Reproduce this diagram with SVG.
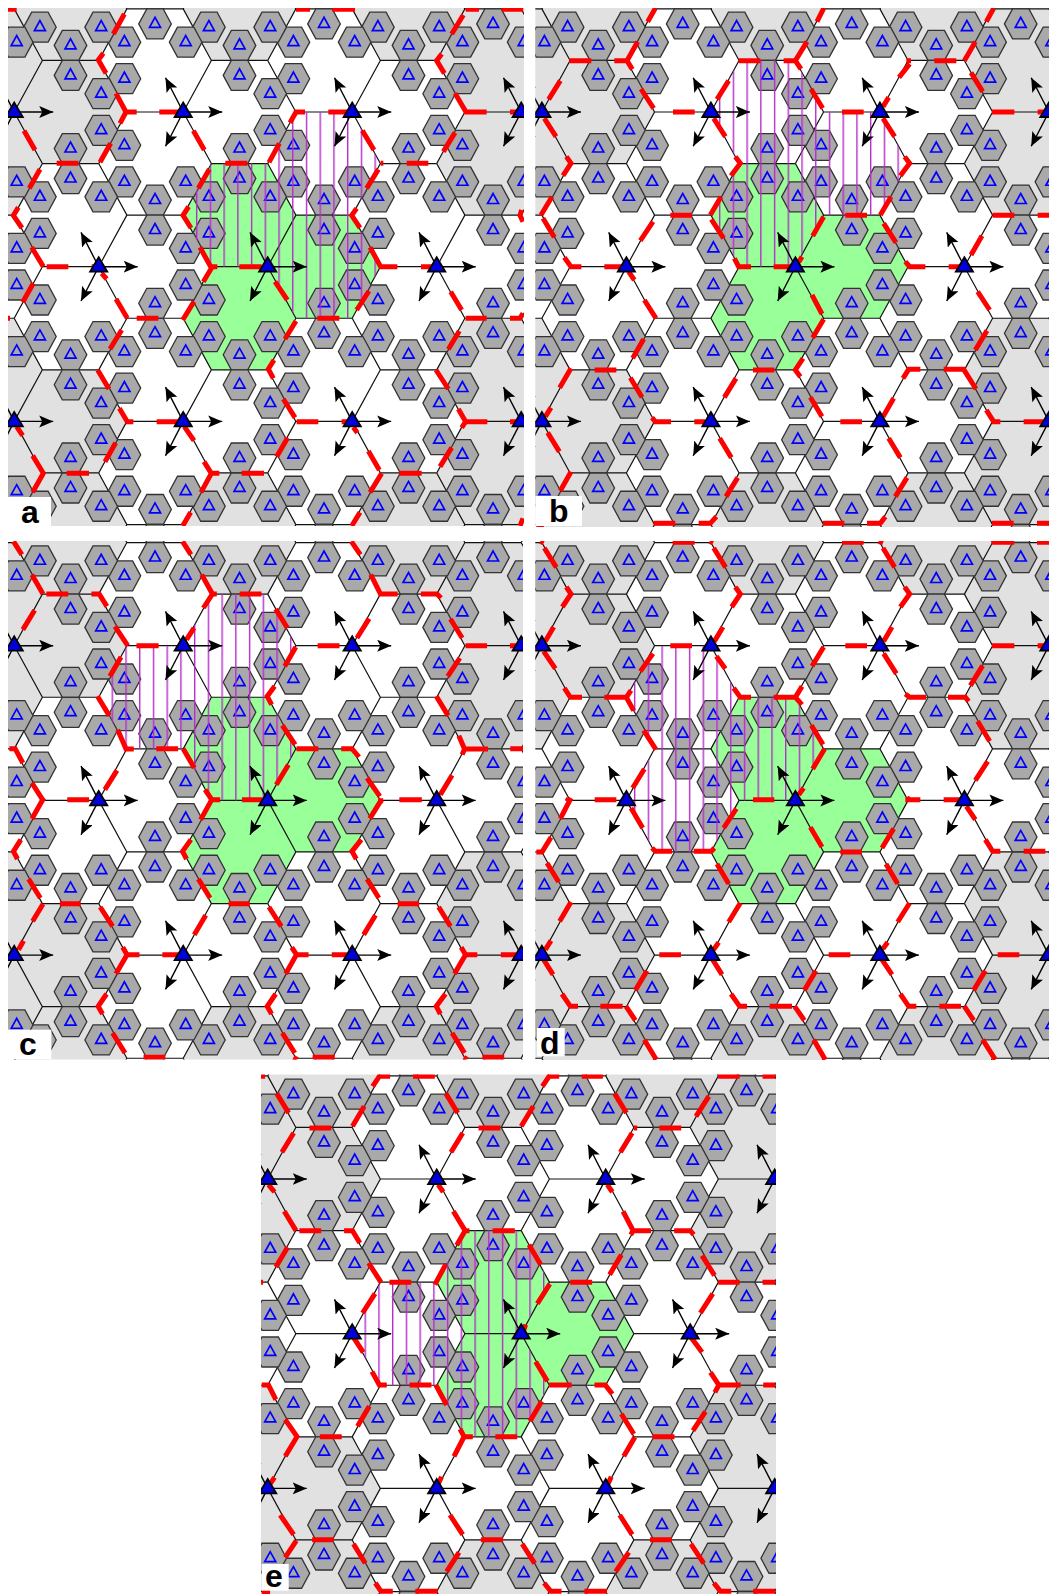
<svg xmlns="http://www.w3.org/2000/svg" xmlns:xlink="http://www.w3.org/1999/xlink" width="1049" height="1594" viewBox="0 0 1049 1594">
<style>
.l{fill:none;stroke:#111;stroke-width:1.2}
.s{fill:#a9a9a9;stroke:#333;stroke-width:1.3}
.t{fill:none;stroke:#00f;stroke-width:1.7}
.a{stroke:#000;stroke-width:1.4;marker-end:url(#ah)}
.b{fill:#0000dc;stroke:#000;stroke-width:1.8}
.g{fill:#e1e1e1}
.gr{fill:#99ff99}
.r{fill:none;stroke:#f00;stroke-width:15;stroke-linejoin:miter}
.lb{fill:#fff}
.tx{font-family:"Liberation Sans",Arial,sans-serif;font-weight:700;font-size:32px;fill:#000}
</style>
<defs>
<marker id="ah" markerUnits="userSpaceOnUse" markerWidth="16" markerHeight="14" refX="14" refY="6" orient="auto"><path d="M0 0L14 6L0 12L3 6Z" fill="#000"/></marker>
<path id="hx" d="M-56.33 0L-28.17-51.57H28.17L56.33 0L28.17 51.57H-28.17Z"/>
<g id="sm"><path class="s" d="M-16.3 0L-8.2-15H8.2L16.3 0L8.2 15H-8.2Z"/><path class="t" d="M-5.5 3.4H5.5L0-6.6Z"/></g>
<path id="uL" class="l" d="M0 0H-56.33M0 0L28.17-51.57M0 0L28.17 51.57M-84.5-51.57L-56.33 0L-84.5 51.57M84.5-51.57H28.17L0-103.14M84.5 51.57H28.17L0 103.14"/>
<g id="uH">
<use href="#sm" x="-58.8" y="-33.3"/><use href="#sm" x="-82" y="-18.3"/>
<use href="#sm" x="-58.8" y="33.3"/><use href="#sm" x="-82" y="18.3"/>
<use href="#sm" x="56.33" y="-66.6"/><use href="#sm" x="56.33" y="-36.6"/>
<use href="#sm" x="25.7" y="-84.85"/><use href="#sm" x="2.5" y="-69.85"/>
<use href="#sm" x="56.33" y="36.6"/><use href="#sm" x="56.33" y="66.6"/>
<use href="#sm" x="25.7" y="84.85"/><use href="#sm" x="2.5" y="69.85"/>
</g>
<g id="uT">
<line class="a" x1="0" y1="0" x2="39" y2="0"/><line class="a" x1="0" y1="0" x2="-17.7" y2="-34.3"/><line class="a" x1="0" y1="0" x2="-17.7" y2="34.3"/>
<polygon class="b" points="-8.6,5 8.6,5 0,-9.4"/>
</g>
<g id="base">
<rect x="0" y="0" width="540" height="540" fill="#fff"/>
<g class="g">
<use href="#hx" x="70.53" y="8.86"/><use href="#hx" x="239.53" y="8.86"/><use href="#hx" x="408.53" y="8.86"/>
<use href="#hx" x="-13.97" y="60.43"/><use href="#hx" x="493.03" y="60.43"/>
<use href="#hx" x="70.53" y="112"/><use href="#hx" x="577.53" y="112"/>
<use href="#hx" x="-13.97" y="163.57"/><use href="#hx" x="493.03" y="163.57"/>
<use href="#hx" x="-13.97" y="369.85"/><use href="#hx" x="493.03" y="369.85"/>
<use href="#hx" x="70.53" y="421.42"/><use href="#hx" x="577.53" y="421.42"/>
<use href="#hx" x="-13.97" y="472.99"/><use href="#hx" x="493.03" y="472.99"/>
<use href="#hx" x="70.53" y="524.56"/><use href="#hx" x="239.53" y="524.56"/><use href="#hx" x="408.53" y="524.56"/>
</g>
<g class="gr">
<use href="#hx" x="239.53" y="215.14"/><use href="#hx" x="324.03" y="266.71"/><use href="#hx" x="239.53" y="318.28"/>
</g>
<g>
<use href="#uL" x="-70.3" y="-42.7"/><use href="#uL" x="98.7" y="-42.7"/><use href="#uL" x="267.7" y="-42.7"/><use href="#uL" x="436.7" y="-42.7"/><use href="#uL" x="605.7" y="-42.7"/>
<use href="#uL" x="14.2" y="112"/><use href="#uL" x="183.2" y="112"/><use href="#uL" x="352.2" y="112"/><use href="#uL" x="521.2" y="112"/>
<use href="#uL" x="-70.3" y="266.7"/><use href="#uL" x="98.7" y="266.7"/><use href="#uL" x="267.7" y="266.7"/><use href="#uL" x="436.7" y="266.7"/><use href="#uL" x="605.7" y="266.7"/>
<use href="#uL" x="14.2" y="421.4"/><use href="#uL" x="183.2" y="421.4"/><use href="#uL" x="352.2" y="421.4"/><use href="#uL" x="521.2" y="421.4"/>
<use href="#uL" x="-70.3" y="576.1"/><use href="#uL" x="98.7" y="576.1"/><use href="#uL" x="267.7" y="576.1"/><use href="#uL" x="436.7" y="576.1"/><use href="#uL" x="605.7" y="576.1"/>
</g>
<g>
<use href="#uH" x="-70.3" y="-42.7"/><use href="#uH" x="98.7" y="-42.7"/><use href="#uH" x="267.7" y="-42.7"/><use href="#uH" x="436.7" y="-42.7"/><use href="#uH" x="605.7" y="-42.7"/>
<use href="#uH" x="14.2" y="112"/><use href="#uH" x="183.2" y="112"/><use href="#uH" x="352.2" y="112"/><use href="#uH" x="521.2" y="112"/>
<use href="#uH" x="-70.3" y="266.7"/><use href="#uH" x="98.7" y="266.7"/><use href="#uH" x="267.7" y="266.7"/><use href="#uH" x="436.7" y="266.7"/><use href="#uH" x="605.7" y="266.7"/>
<use href="#uH" x="14.2" y="421.4"/><use href="#uH" x="183.2" y="421.4"/><use href="#uH" x="352.2" y="421.4"/><use href="#uH" x="521.2" y="421.4"/>
<use href="#uH" x="-70.3" y="576.1"/><use href="#uH" x="98.7" y="576.1"/><use href="#uH" x="267.7" y="576.1"/><use href="#uH" x="436.7" y="576.1"/><use href="#uH" x="605.7" y="576.1"/>
</g>
</g>
<g id="top">
<use href="#uT" x="98.7" y="-42.7"/><use href="#uT" x="267.7" y="-42.7"/><use href="#uT" x="436.7" y="-42.7"/>
<use href="#uT" x="14.2" y="112"/><use href="#uT" x="183.2" y="112"/><use href="#uT" x="352.2" y="112"/><use href="#uT" x="521.2" y="112"/>
<use href="#uT" x="98.7" y="266.7"/><use href="#uT" x="267.7" y="266.7"/><use href="#uT" x="436.7" y="266.7"/>
<use href="#uT" x="14.2" y="421.4"/><use href="#uT" x="183.2" y="421.4"/><use href="#uT" x="352.2" y="421.4"/><use href="#uT" x="521.2" y="421.4"/>
<use href="#uT" x="98.7" y="576.1"/><use href="#uT" x="267.7" y="576.1"/><use href="#uT" x="436.7" y="576.1"/>
</g>
<path id="h11" d="M98.7 163.57L126.86 112H183.2L211.36 163.57L183.2 215.14H126.86Z"/>
<path id="h13" d="M98.7 266.71L126.86 215.14H183.2L211.36 266.71L183.2 318.28H126.86Z"/>
<path id="h20" d="M183.2 112L211.36 60.43H267.7L295.86 112L267.7 163.57H211.36Z"/>
<path id="h22" d="M183.2 215.14L211.36 163.57H267.7L295.86 215.14L267.7 266.71H211.36Z"/>
<path id="h24" d="M183.2 318.28L211.36 266.71H267.7L295.86 318.28L267.7 369.85H211.36Z"/>
<path id="h31" d="M267.7 163.57L295.86 112H352.2L380.36 163.57L352.2 215.14H295.86Z"/>
<path id="h33" d="M267.7 266.71L295.86 215.14H352.2L380.36 266.71L352.2 318.28H295.86Z"/>
<pattern id="pa" patternUnits="userSpaceOnUse" x="3.75" y="0" width="13.73" height="20"><rect width="1.4" height="20" fill="#b52ec8"/></pattern>
<pattern id="pb" patternUnits="userSpaceOnUse" x="12.77" y="0" width="13.73" height="20"><rect width="1.4" height="20" fill="#b52ec8"/></pattern>
<pattern id="pc" patternUnits="userSpaceOnUse" x="1.76" y="0" width="13.73" height="20"><rect width="1.4" height="20" fill="#b52ec8"/></pattern>
<pattern id="pd" patternUnits="userSpaceOnUse" x="10.16" y="0" width="13.73" height="20"><rect width="1.4" height="20" fill="#b52ec8"/></pattern>
<pattern id="pe" patternUnits="userSpaceOnUse" x="1.2" y="0" width="13.73" height="20"><rect width="1.4" height="20" fill="#b52ec8"/></pattern>
<clipPath id="ca"><rect x="8" y="8" width="516" height="518"/></clipPath>
<clipPath id="cb"><rect x="535.3" y="8" width="514" height="519"/></clipPath>
<clipPath id="cc"><rect x="8" y="541" width="515" height="518.5"/></clipPath>
<clipPath id="cd"><rect x="535.3" y="541" width="514" height="519"/></clipPath>
<clipPath id="ce"><rect x="261" y="1074.5" width="515" height="519.5"/></clipPath>
</defs>

<g id="panel-a" clip-path="url(#ca)">
<use href="#base"/>
<g fill="url(#pa)"><use href="#h31"/><use href="#h22"/><use href="#h33"/></g>
<path class="r" transform="scale(.33333)" d="M24 28H50M373 42L340 102M310 160L295 180L318 220M348 280L378 336L360 370M378 336H410M478 336H540M72 392L105 450M580 392L613 450M170 490H235M332 430L300 487M676 490H742M120 508L88 565M628 508L595 565M55 622L40 646L66 684M566 620L549 646L573 684M95 742L130 800M140 800H205M275 800H295M600 742L632 800H652M718 800H785M888 28H930M997 28H1065M1397 28H1437M1505 28H1570M1390 45L1355 102M1325 162L1310 182L1333 220M1365 280L1398 336H1460M1530 336H1569M870 368L888 336H915M985 336H1050M1087 392L1122 450M838 430L807 487M1142 490H1150M1220 490H1285M1365 398L1330 455M1135 508L1100 565M1070 625L1055 646L1080 684M1110 742L1142 800H1192M1263 800H1300M1565 630L1560 646L1569 665M100 850L68 907M24 955H30M305 820L320 837M348 897L382 955M410 955H475M582 905L548 960M365 990L330 1047M293 1110L327 1167M358 1225L382 1265H400M470 1265H535M50 1280L68 1307M553 1280L582 1322M347 1328L315 1385M98 1367L130 1420L98 1477M200 1420H267M612 1385L634 1420L603 1477M634 1420H658M725 1420H792M572 1537L548 1578M640 795L610 845M825 845L862 900M1107 873L1070 930M1352 875L1385 930M1397 955H1460M1530 955H1560L1569 940M952 955H1018M888 963L855 1017M1378 993L1345 1048M822 1080L805 1107L820 1135M1308 1110L1345 1167M850 1197L885 1253M1375 1227L1397 1265L1385 1283M1397 1265H1462M890 1265H955M1025 1265H1050M1060 1282L1072 1298M1530 1265H1555M863 1313L830 1370M1355 1343L1320 1400M1105 1353L1138 1410M1198 1420H1265M1145 1420L1110 1477M1080 1537L1055 1578M1569 1555L1560 1578"/>
<use href="#top"/>
</g>
<rect class="lb" x="8" y="497" width="43" height="29"/>
<text class="tx" x="21" y="523">a</text>

<g id="panel-b" clip-path="url(#cb)">
<g transform="translate(527.7,0)">
<use href="#base"/>
<g fill="url(#pb)"><use href="#h20"/><use href="#h31"/><use href="#h22"/></g>
</g>
<path class="r" transform="translate(527,0) scale(.33333)" d="M385 25L362 65M890 25L870 65M1400 25L1378 65M262 182H300M332 125L300 182L316 208M127 182H193M635 182H700M770 182H805M840 125L805 182L822 207M1152 182H1138M1148 192L1116 232M1222 182H1288M1345 125L1312 182M1332 218L1367 275M100 242L65 298M605 242L570 298M342 267L380 325M852 267L887 325M1395 336H1462M1532 336H1566M438 336H503M945 336H1010M1085 292L1068 320M52 355L87 410M560 355L595 410M1068 355L1103 410M118 470L132 490L108 527M625 470L640 490L612 527M1133 470L1148 490L1120 527M75 590L42 645M582 590L550 645M1092 590L1060 645M430 646H495M955 646H1020M1397 646H1462M1532 646H1566M48 655L82 712M553 658L590 715M1070 670L1107 728M890 650L857 708M378 665L340 722M1365 707L1332 765M112 772L132 800H163M622 775L635 800H672M232 800H285M740 800H790M1135 785L1148 800H1195M1265 800H1300M825 770L815 787"/>
<path class="r" transform="translate(527,265) scale(.33333)" d="M305 20L322 45M352 105L387 160M855 90L885 147M1352 80L1388 135M890 163L857 218M350 222L317 280M1380 197L1345 255M203 315H268M678 315H742M828 280L805 315L820 335M132 310L98 368M1180 313H1145L1128 340M1250 313H1310L1347 372M310 338L345 397M627 340L592 397M850 397L885 455M1100 400L1068 455M72 428L55 455M375 458L385 470H432M502 470H535M940 470H1005M1378 435L1400 470H1420M1490 470H1550M62 503L97 560M578 520L613 578M1085 520L1120 578M132 620L100 677M632 638L597 695M1140 638L1105 695M380 775H445M888 775H952M1395 775H1460M515 775H550L568 755M1020 775H1060L1075 755M1530 775H1566M28 785H50"/>
<use href="#top" transform="translate(527.7,0)"/>
</g>
<rect class="lb" x="535.3" y="496" width="46.7" height="30"/>
<text class="tx" x="549" y="522">b</text>

<g id="panel-c" clip-path="url(#cc)">
<g transform="translate(0,533.7)">
<use href="#base"/>
<g fill="url(#pc)"><use href="#h11"/><use href="#h20"/><use href="#h22"/></g>
</g>
<path class="r" transform="translate(0,533) scale(.33613,.33333)" d="M40 25L65 65M543 25L568 65M1045 25L1072 65M95 125L128 183M600 125L632 183L605 225M632 183H645M1103 125L1132 183H1183M138 183H203M272 183H295L318 220M713 183H778M1252 183H1300L1312 195M103 232L68 290M820 228L855 285M1098 257L1062 315M342 280L380 338M1340 258L1375 315M577 285L555 320M406 338H472M945 338H1010M1385 338H1449M1517 338H1545M360 372L327 430M880 342L847 400M1368 375L1332 430M817 460L795 490L808 515M290 490L325 548M1298 490L1333 548M840 577L878 635M350 590L375 648H398M465 647H530M882 647H947M1015 647H1047L1068 672M1365 608L1382 648H1452M1382 648L1375 665M1518 647H1556M28 647H45L68 690M545 647L578 705M348 712L312 770M858 695L822 755M1345 727L1310 785M95 750L130 805M1092 735L1130 790M200 800H265M610 770L630 800H655M720 800H780M1125 803H1140M1188 800H1255"/>
<path class="r" transform="translate(0,798) scale(.33613,.33333)" d="M130 0L95 62M630 5L597 65M1135 5L1100 62M62 125L40 160L52 183M568 125L543 160L555 183M1075 125L1047 160L1060 183M85 243L120 300M590 243L625 300M1092 243L1127 300M128 318L97 370M178 317H240M680 317H743M1183 317H1247M298 327L335 385M800 327L837 385M1305 327L1340 385M612 352L578 410M1117 352L1082 410M70 428L55 455M365 448L378 470L345 527M378 470H415M868 448L882 470L850 527M882 470H918M1372 448L1385 470L1352 527M1385 470H1420M483 470H530M987 470H1032M1490 470H1535M317 588L292 625L305 648M820 588L795 625L808 648M1325 588L1298 625L1310 648M335 705L372 765M840 705L877 765M1345 705L1382 765M427 778H492M930 778H996M1435 778H1500M873 778L885 785M1380 778L1390 785"/>
<use href="#top" transform="translate(0,533.7)"/>
</g>
<rect class="lb" x="8" y="1029.7" width="43.4" height="29.3"/>
<text class="tx" x="19" y="1055">c</text>

<g id="panel-d" clip-path="url(#cd)">
<g transform="translate(527.7,533.7)">
<use href="#base"/>
<g fill="url(#pd)"><use href="#h11"/><use href="#h13"/><use href="#h22"/></g>
</g>
<path class="r" transform="translate(527,533) scale(.33333)" d="M40 25L50 30M437 28H503M548 25L558 30M945 28H1010M1055 25L1068 30M1393 28H1462M1530 28H1566M52 45L88 103M560 45L596 103M1068 45L1103 103M118 162L132 183L106 222M625 162L640 183L614 222M1133 162L1148 183L1120 222M80 282L55 325M588 282L562 325M1095 282L1070 325M430 338H495M955 338H1020M1395 338H1462M1532 338H1566M50 355L85 407M568 370L595 407M1070 362L1108 422M378 362L340 415M890 342L855 400M1367 398L1330 458M112 465L130 493H165M620 465L640 493H672M232 493H298L320 533M298 493L312 472M740 493H805L825 515M805 493L825 460M1135 483L1148 493H1197M1263 493H1315L1325 505M350 592L387 650M853 577L888 635M1352 565L1388 625M893 647L857 708M1382 685L1345 742M352 708L317 765M203 800H268M125 795L120 805M678 800H742M830 765L815 785M1135 800H1180M1250 800H1300"/>
<path class="r" transform="translate(527,798) scale(.33333)" d="M132 0L100 62M312 30L347 90M1318 25L1345 65M628 32L590 90M1150 0L1140 5M1100 92L1065 150M850 88L885 147M72 118L45 162H28M375 150L385 160H435M500 160H553L562 150M1375 125L1397 160H1420M1490 160H1555M940 162H1005M60 195L95 252M570 198L605 257M1077 198L1112 257M132 312L98 370M640 315L605 372M1148 315L1112 372M72 428L55 455M397 470H462M905 470H970M1412 470H1477M575 433L560 455M1082 433L1068 452M50 485L78 530M557 485L585 530M1065 485L1095 530M360 518L325 577M867 518L832 577M1375 518L1340 577M105 588L130 625H153M612 588L638 625H660M1120 588L1145 625H1168M220 625H287M728 625H795M1237 625H1302M297 625L325 667M803 625L832 667M1312 625L1340 667M352 725L388 785M860 725L895 785M1367 725L1405 785"/>
<use href="#top" transform="translate(527.7,533.7)"/>
</g>
<rect class="lb" x="537" y="1028" width="27.7" height="28.3"/>
<text class="tx" x="540" y="1054">d</text>

<g id="panel-e" clip-path="url(#ce)">
<g transform="translate(253.5,1067)">
<use href="#base"/>
<g fill="url(#pe)"><use href="#h13"/><use href="#h22"/><use href="#h24"/></g>
</g>
<path class="r" transform="translate(255,1068) scale(.33613,.33333)" d="M18 25H30M350 55L370 25H402M470 25H535M855 55L875 25H905M972 25H1035M1378 25H1442M1510 25H1548M65 77L100 135M568 77L603 135M1070 77L1105 135M325 115L290 175M828 115L792 175M1350 85L1312 145M162 180H227M665 180H730M1203 180H1268M1127 180H1137M115 195L80 253M618 195L583 253M1122 195L1087 253M40 350L58 372M545 350L560 372M1048 350L1063 372M87 430L122 488M590 430L625 488H638M625 488L600 532M1095 430L1125 488H1178M1125 488L1118 500M132 488H197M707 488H773M265 488H290L312 525M1247 488H1295L1305 500M97 538L62 597M815 530L850 590M1090 560L1055 620M1330 563L1367 622M338 585L375 643M567 590L535 650M18 643H24M400 643H465M938 643H1003M1378 643H1442M1510 643H1548M877 648L840 707M357 677L320 735M1362 677L1325 735M805 770L800 785"/>
<path class="r" transform="translate(255,1329) scale(.33613,.33333)" d="M293 25L322 70M1297 25L1330 70M835 98L870 157M348 128L370 168H392M1355 130L1380 168H1445M1380 168L1368 190M460 168H525M875 168H942M1010 168H1042L1063 195M538 168L570 228M20 168H40L62 212M1512 168H1548M853 217L818 277M340 232L305 292M1340 248L1303 305M1090 255L1127 315M90 272L125 323L90 382M610 300L622 323L592 382M622 323H648M193 323H258M715 323H780M1183 323H1248M1130 325L1097 382M58 445L45 465M555 443L545 465M1060 443L1050 465M75 558L115 617M580 558L618 617M1085 558L1122 617M123 635L90 685M170 632H235M672 632H738M1175 632H1240M293 645L328 703M795 645L832 703M1297 645L1335 703M607 670L570 728M1112 670L1073 728M358 762L375 787H410M860 762L880 787H912M1365 762L1385 787H1417M477 787H543M980 787H1047M1482 787H1548M20 790H45"/>
<use href="#top" transform="translate(253.5,1067)"/>
</g>
<rect class="lb" x="261.7" y="1564" width="27" height="26.7"/>
<text class="tx" x="265" y="1587">e</text>
</svg>
